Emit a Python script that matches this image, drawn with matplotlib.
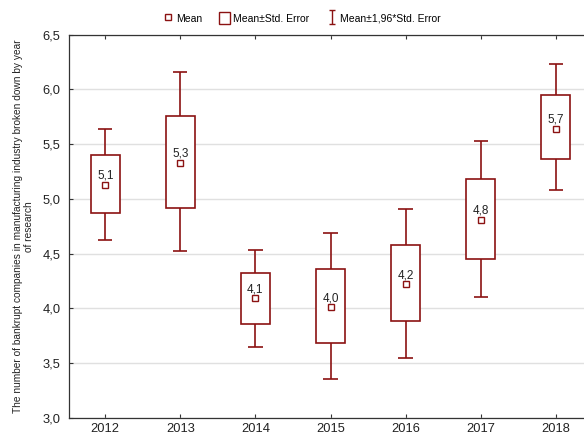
import matplotlib
matplotlib.use("Agg")
import matplotlib.pyplot as plt
from matplotlib.lines import Line2D
from matplotlib.patches import Patch
from matplotlib.path import Path
from matplotlib.ticker import FuncFormatter

# ---- data --------------------------------------------------------------
years      = [2012, 2013, 2014, 2015, 2016, 2017, 2018]
means      = [5.13, 5.33, 4.09, 4.01, 4.22, 4.81, 5.64]
mean_lbl   = ["5,1", "5,3", "4,1", "4,0", "4,2", "4,8", "5,7"]
se_low     = [4.87, 4.92, 3.86, 3.68, 3.88, 4.45, 5.36]
se_high    = [5.40, 5.76, 4.32, 4.36, 4.58, 5.18, 5.95]
ci_low     = [4.62, 4.52, 3.65, 3.35, 3.55, 4.10, 5.08]
ci_high    = [5.64, 6.16, 4.53, 4.69, 4.91, 5.53, 6.23]
yticks     = [3.0, 3.5, 4.0, 4.5, 5.0, 5.5, 6.0, 6.5]

RED  = "#8B1212"
GRID = "#E0E0E0"
INK  = "#222222"

plt.rcParams.update({
    "font.family": ["Liberation Sans", "DejaVu Sans"],
    "font.size": 9,
    "axes.linewidth": 0.9,
    "axes.edgecolor": "#333333",
})

fig = plt.figure(figsize=(5.84, 4.36), dpi=100)
ax = fig.add_axes([69 / 584, 18.3 / 436, 523 / 584, 383 / 436])

x = list(range(len(years)))
box_w, cap_w = 0.39, 0.19

ax.bar(x, [h - l for l, h in zip(se_low, se_high)], bottom=se_low, width=box_w,
       facecolor="white", edgecolor=RED, linewidth=1.2, zorder=3)
ax.vlines(x, ci_low, se_low, color=RED, lw=1.2, zorder=3)
ax.vlines(x, se_high, ci_high, color=RED, lw=1.2, zorder=3)
ax.hlines(ci_low, [i - cap_w / 2 for i in x], [i + cap_w / 2 for i in x],
          color=RED, lw=1.2, zorder=3)
ax.hlines(ci_high, [i - cap_w / 2 for i in x], [i + cap_w / 2 for i in x],
          color=RED, lw=1.2, zorder=3)
ax.plot(x, means, ls="none", marker="s", ms=4.2, mfc="white", mec=RED,
        mew=1.0, zorder=4)
for i, m, t in zip(x, means, mean_lbl):
    ax.annotate(t, (i, m), xytext=(0, 2.2), textcoords="offset points",
                ha="center", va="bottom", fontsize=8.5, color=INK, zorder=5)

ax.set_xlim(-0.483, len(years) - 1 + 0.483)
ax.set_ylim(3.0, 6.5)
ax.set_xticks(x)
ax.set_xticklabels([str(y) for y in years])
ax.set_yticks(yticks)
ax.yaxis.set_major_formatter(FuncFormatter(lambda v, _: f"{v:.1f}".replace(".", ",")))
ax.grid(axis="y", color=GRID, lw=1.0, zorder=0)
ax.set_axisbelow(True)
ax.tick_params(direction="in", length=3, top=True, colors="#333333",
               labelcolor=INK, labelsize=9.3)
ax.tick_params(axis="y", pad=6)
ax.set_ylabel("The number of bankrupt companies in manufacturing industry broken down by year\nof research",
              fontsize=7.3, color=INK, labelpad=6)

I_path = Path([(-0.4, -1), (0.4, -1), (0, -1), (0, 1), (-0.4, 1), (0.4, 1)],
              [Path.MOVETO, Path.LINETO, Path.MOVETO, Path.LINETO,
               Path.MOVETO, Path.LINETO])
handles = [
    Line2D([], [], ls="none", marker="s", ms=4.5, mfc="white", mec=RED, mew=1.0),
    Patch(facecolor="white", edgecolor=RED, linewidth=1.0),
    Line2D([], [], ls="none", marker=I_path, ms=10, mec=RED, mfc="none", mew=1.0),
]
fig.legend(handles, ["Mean", "Mean±Std. Error", "Mean±1,96*Std. Error"],
           loc="center", bbox_to_anchor=(0.516, 0.958), ncol=3, frameon=False,
           fontsize=7.5, handlelength=1.1, handleheight=1.35, handletextpad=0.25,
           columnspacing=1.6)

fig.savefig("out.png", dpi=100)
